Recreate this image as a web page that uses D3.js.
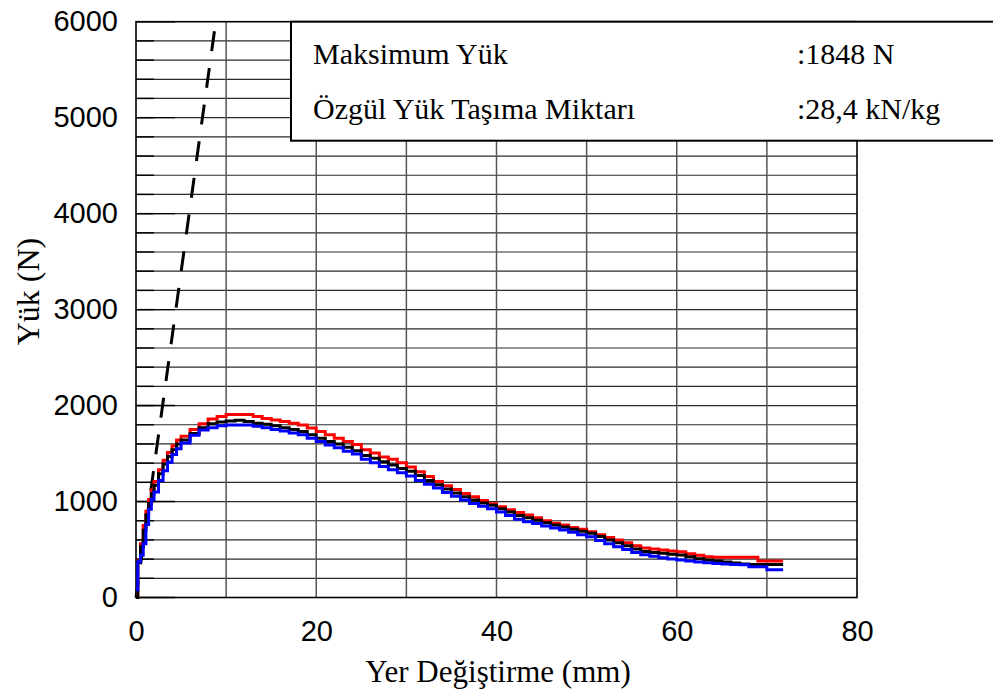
<!DOCTYPE html>
<html>
<head>
<meta charset="utf-8">
<script src="https://cdn.jsdelivr.net/npm/d3@7"></script>
<style>
  body { margin: 0; background: #fff; }
  svg { display: block; }
</style>
</head>
<body>
<svg id="chart" width="993" height="698"></svg>
<script>
// Displacement (mm) shared by the three load curves
const displacement = [0, 0.2, 0.5, 0.8, 1.1, 1.4, 1.7, 2, 2.5, 3, 3.5, 4, 4.5, 5,
  6, 7, 8, 9, 10, 11, 12, 13, 14, 15, 16, 17, 18, 19, 20, 21, 22, 23, 24, 25,
  26, 27, 28, 29, 30, 31, 32, 33, 34, 35, 36, 37, 38, 39, 40, 41, 42, 43, 44, 45,
  46, 47, 48, 49, 50, 51, 52, 53, 54, 55, 56, 57, 58, 59, 60, 61, 62, 63, 64, 65,
  66, 67, 68, 69, 70, 71, 71.8];

// Load (N) of each specimen
const loadRed = [0, 380, 560, 750, 900, 1020, 1120, 1210, 1330, 1430, 1510, 1580, 1640, 1680,
  1750, 1810, 1860, 1885, 1908, 1908, 1908, 1885, 1865, 1850, 1835, 1815, 1797, 1765, 1730, 1695,
  1660, 1625, 1595, 1540, 1505, 1465, 1440, 1405, 1360, 1310, 1260, 1210, 1165, 1125, 1085, 1050,
  1010, 978, 946, 915, 885, 860, 830, 800, 775, 755, 730, 710, 686, 655, 625, 600, 570, 540,
  515, 505, 495, 485, 477, 455, 440, 425, 420, 420, 420, 420, 420, 380, 380, 380, 380];

const loadBlack = [0, 370, 530, 700, 860, 980, 1080, 1170, 1290, 1390, 1470, 1540, 1600, 1640,
  1710, 1770, 1810, 1830, 1840, 1848, 1835, 1815, 1805, 1790, 1770, 1750, 1730, 1695, 1660, 1625,
  1600, 1565, 1530, 1480, 1450, 1415, 1380, 1345, 1315, 1270, 1220, 1175, 1130, 1090, 1050, 1015,
  985, 960, 925, 890, 855, 830, 805, 780, 755, 735, 710, 690, 669, 635, 600, 570, 540, 505,
  480, 470, 460, 450, 443, 425, 405, 391, 380, 370, 360, 350, 345, 345, 345, 345, 345];

const loadBlue = [80, 373, 440, 560, 760, 920, 1020, 1100, 1220, 1320, 1410, 1490, 1550, 1610,
  1690, 1745, 1770, 1790, 1797, 1797, 1797, 1785, 1770, 1750, 1735, 1715, 1695, 1660, 1625, 1590,
  1560, 1525, 1495, 1440, 1405, 1365, 1330, 1300, 1265, 1220, 1180, 1140, 1095, 1055, 1016, 980,
  950, 925, 890, 855, 815, 790, 770, 745, 725, 703, 680, 655, 633, 595, 560, 529, 500, 470,
  445, 430, 415, 400, 391, 380, 370, 363, 355, 350, 345, 340, 321, 321, 290, 290, 290];

// Initial stiffness reference line (drawn from the top down)
const elasticX = [8.7, 0];
const elasticY = [5900, 0];

// Axis ticks and grid
const xTicks = [0, 20, 40, 60, 80];
const yTicks = [0, 1000, 2000, 3000, 4000, 5000, 6000];
const xGrid = [10, 20, 30, 40, 50, 60, 70];
const yGrid = [200, 400, 600, 800, 1000, 1200, 1400, 1600, 1800, 2000, 2200, 2400, 2600, 2800,
  3000, 3200, 3400, 3600, 3800, 4000, 4200, 4400, 4600, 4800, 5000, 5200, 5400, 5600, 5800];
const yMinorTicks = yGrid;

// Summary box text
const infoLabels = ["Maksimum Yük", "Özgül Yük Taşıma Miktarı"];
const infoValues = [":1848 N", ":28,4 kN/kg"];

const svg = d3.select("#chart");
const x = d3.scaleLinear().domain([0, 80]).range([136, 857]);
const y = d3.scaleLinear().domain([0, 6000]).range([597.5, 21.7]);

const serif = "'Liberation Serif', 'Times New Roman', serif";
const sans = "'Liberation Sans', Arial, sans-serif";

// Grid
const grid = svg.append("g");
grid.selectAll("line.h").data(yGrid).join("line")
  .attr("class", "h")
  .attr("x1", x(0)).attr("x2", x(80))
  .attr("y1", d => y(d)).attr("y2", d => y(d))
  .attr("stroke", "#2a2a2a").attr("stroke-width", 1.2);
grid.selectAll("line.v").data(xGrid).join("line")
  .attr("class", "v")
  .attr("y1", y(0)).attr("y2", y(6000))
  .attr("x1", d => x(d)).attr("x2", d => x(d))
  .attr("stroke", "#555").attr("stroke-width", 1.5);

// Inward ticks on the load axis
grid.selectAll("line.mt").data(yMinorTicks).join("line")
  .attr("x1", x(0)).attr("x2", x(0) + 18)
  .attr("y1", d => y(d)).attr("y2", d => y(d))
  .attr("stroke", "#000").attr("stroke-width", 1.4);
grid.selectAll("line.Mt").data(yTicks).join("line")
  .attr("x1", x(0)).attr("x2", x(0) + 39)
  .attr("y1", d => y(d)).attr("y2", d => y(d))
  .attr("stroke", "#000").attr("stroke-width", 1.4);

// Plot frame
svg.append("rect")
  .attr("x", x(0)).attr("y", y(6000))
  .attr("width", x(80) - x(0)).attr("height", y(0) - y(6000))
  .attr("fill", "none").attr("stroke", "#000").attr("stroke-width", 1.6);

// Axis labels
const yAxis = svg.append("g").attr("transform", `translate(${x(0)},0)`)
  .call(d3.axisLeft(y).tickValues(yTicks).tickSize(0).tickPadding(18).tickFormat(d3.format("d")));
const xAxis = svg.append("g").attr("transform", `translate(0,${y(0)})`)
  .call(d3.axisBottom(x).tickValues(xTicks).tickSize(0).tickPadding(23).tickFormat(d3.format("d")));
[yAxis, xAxis].forEach(a => {
  a.select(".domain").remove();
  a.selectAll("text")
    .attr("font-family", sans)
    .attr("font-size", 29).attr("fill", "#000");
});

// Summary box
const box = svg.append("g");
box.append("rect")
  .attr("x", 291).attr("y", y(6000))
  .attr("width", 720).attr("height", 119)
  .attr("fill", "#fff").attr("stroke", "#000").attr("stroke-width", 2);
infoLabels.forEach((t, i) => {
  box.append("text").attr("x", 313).attr("y", 64 + i * 55)
    .attr("font-family", serif).attr("font-size", 30).text(t);
  box.append("text").attr("x", 797).attr("y", 64 + i * 55)
    .attr("font-family", serif).attr("font-size", 30).text(infoValues[i]);
});

// Initial stiffness line
const elastic = elasticX.map((d, i) => [d, elasticY[i]]);
svg.append("path")
  .datum(elastic)
  .attr("d", d3.line().x(d => x(d[0])).y(d => y(d[1])))
  .attr("fill", "none").attr("stroke", "#000")
  .attr("stroke-width", 3).attr("stroke-dasharray", "20,17");

// Load–displacement curves
const lineGen = d3.line().x(d => x(d[0])).y(d => y(d[1])).curve(d3.curveStepAfter);
const series = [
  { values: loadRed, color: "#ff0000" },
  { values: loadBlack, color: "#000000" },
  { values: loadBlue, color: "#0000ff" }
];
svg.append("g").selectAll("path").data(series).join("path")
  .attr("d", s => lineGen(displacement.map((d, i) => [d, s.values[i]])))
  .attr("fill", "none").attr("stroke", s => s.color)
  .attr("stroke-width", 3).attr("stroke-linejoin", "miter");

// Axis titles
svg.append("text")
  .attr("transform", `translate(39,${y(3000) - 18}) rotate(-90)`)
  .attr("text-anchor", "middle")
  .attr("font-family", serif).attr("font-size", 32).text("Yük (N)");
svg.append("text")
  .attr("x", 498).attr("y", 682)
  .attr("text-anchor", "middle")
  .attr("font-family", serif).attr("font-size", 31).text("Yer Değiştirme (mm)");
</script>
</body>
</html>
